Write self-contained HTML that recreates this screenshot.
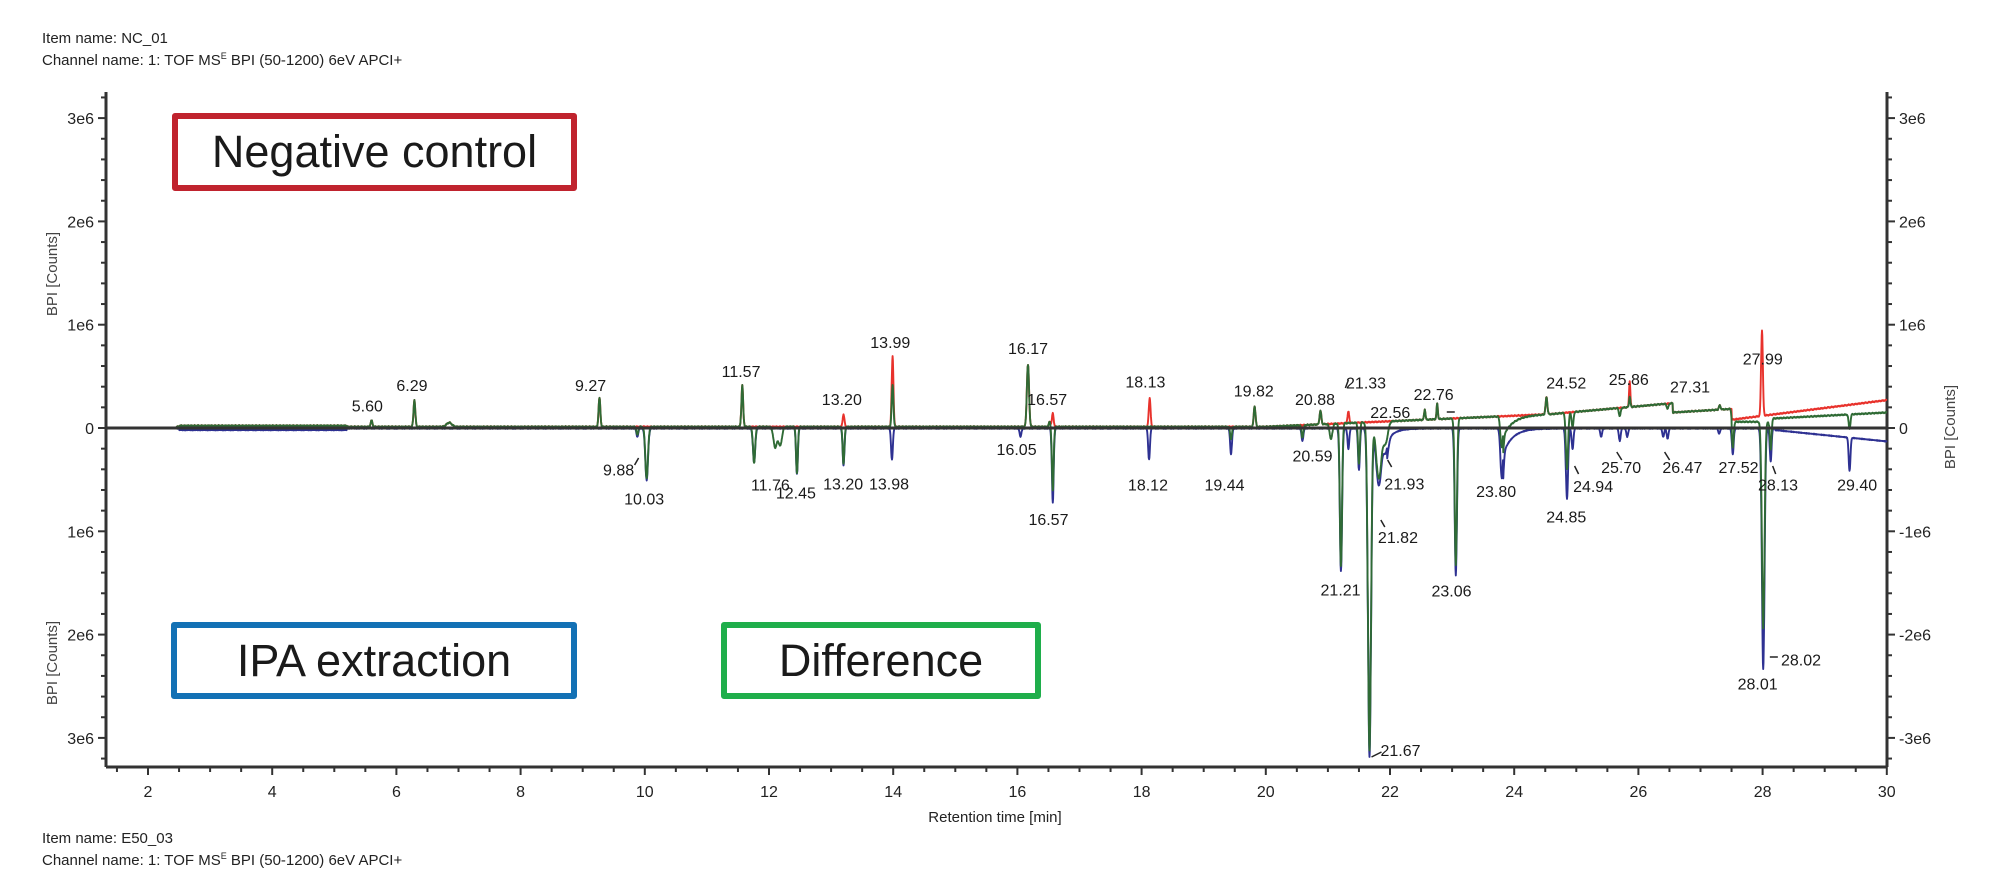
<!DOCTYPE html>
<html><head><meta charset="utf-8"><style>
html,body{margin:0;padding:0;background:#fff;}
body{width:2000px;height:893px;overflow:hidden;position:relative;font-family:"Liberation Sans",sans-serif;}
.hdr{position:absolute;left:42px;font-size:15px;color:#222;white-space:nowrap;}
.box{position:absolute;border:6px solid;border-radius:3px;box-sizing:border-box;display:flex;align-items:center;justify-content:center;font-size:45px;color:#1a1a1a;}
</style></head><body>
<div class="hdr" style="top:30px">Item name: NC_01</div>
<div class="hdr" style="top:51px">Channel name: 1: TOF MS<sup style="font-size:9px">E</sup> BPI (50-1200) 6eV APCI+</div>
<div class="hdr" style="top:830px">Item name: E50_03</div>
<div class="hdr" style="top:851px">Channel name: 1: TOF MS<sup style="font-size:9px">E</sup> BPI (50-1200) 6eV APCI+</div>
<svg id="s" width="2000" height="893" style="position:absolute;left:0;top:0" font-family="Liberation Sans, sans-serif"></svg>
<div class="box" style="left:172px;top:113px;width:405px;height:78px;border-color:#c0232e">Negative control</div>
<div class="box" style="left:171px;top:622px;width:406px;height:77px;border-color:#1371b5">IPA extraction</div>
<div class="box" style="left:721px;top:622px;width:320px;height:77px;border-color:#1fae4b">Difference</div>
<script>
var S=document.getElementById('s'),NS='http://www.w3.org/2000/svg';
function X(t){return 148+(t-2)*62.1;}
function Y(v){return 428-v*103.3;}
function el(n,a,txt){var e=document.createElementNS(NS,n);for(var k in a)e.setAttribute(k,a[k]);if(txt!=null)e.textContent=txt;S.appendChild(e);return e;}
var L=106,R=1887,T=92,B=767;
el('line',{x1:L,y1:T,x2:L,y2:B,stroke:'#333','stroke-width':3});
el('line',{x1:R,y1:T,x2:R,y2:B,stroke:'#333','stroke-width':3});
el('line',{x1:L,y1:B,x2:R,y2:B,stroke:'#333','stroke-width':3});
for(var t=1.5;t<=30.001;t+=0.5){var x=X(t),maj=Math.abs(t-Math.round(t/2)*2)<0.01;
 el('line',{x1:x,y1:B,x2:x,y2:B+(maj?8:5),stroke:'#333','stroke-width':2});
 if(maj)el('text',{x:x,y:B+30,'font-size':16,'text-anchor':'middle',fill:'#222'},String(Math.round(t)));}
el('text',{x:995,y:822,'font-size':15,'text-anchor':'middle',fill:'#222'},'Retention time [min]');
for(var i=-16;i<=16;i++){var v=i*0.2,y=Y(v);if(y<T||y>B)continue;var maj=i%5==0;
 el('line',{x1:L-(maj?8:5),y1:y,x2:L,y2:y,stroke:'#333','stroke-width':2});
 el('line',{x1:R,y1:y,x2:R+(maj?8:5),y2:y,stroke:'#333','stroke-width':2});
 if(maj){var n=i/5,lab=n==0?'0':Math.abs(n)+'e6';
  el('text',{x:L-12,y:y+6,'font-size':16,'text-anchor':'end',fill:'#222'},lab);
  el('text',{x:R+12,y:y+6,'font-size':16,fill:'#222'},n==0?'0':(n<0?'-':'')+Math.abs(n)+'e6');}}
el('text',{x:0,y:0,'font-size':15,'text-anchor':'middle',fill:'#444',transform:'translate(57,274) rotate(-90)'},'BPI [Counts]');
el('text',{x:0,y:0,'font-size':15,'text-anchor':'middle',fill:'#444',transform:'translate(57,663) rotate(-90)'},'BPI [Counts]');
el('text',{x:0,y:0,'font-size':15,'text-anchor':'middle',fill:'#444',transform:'translate(1955,427) rotate(-90)'},'BPI [Counts]');
function nz(t){return (Math.sin(t*1371.3)*0.5+Math.sin(t*523.7)*0.5)*0.006;}
function U(t){if(t<20)return 0.012+(t>2.5&&t<5.2?0.01:0);if(t<24.5)return 0.012+(t-20)/4.5*0.12;if(t<26.55)return 0.13+(t-24.5)/2.05*0.11;if(t<27.5)return 0.15+(t-26.55)/0.95*0.035;return null;}
function g(t,p){var s=0;for(var i=0;i<p.length;i++){var d=(t-p[i][0])/p[i][2];if(Math.abs(d)<6)s+=p[i][1]*Math.exp(-d*d);}return s;}
var posG=[[5.6,0.06,0.02],[6.29,0.26,0.02],[6.85,0.04,0.06],[9.27,0.28,0.02],[11.57,0.4,0.02],[13.99,0.4,0.02],[16.17,0.6,0.025],[19.82,0.2,0.02],[20.88,0.13,0.02],[22.56,0.1,0.015],[22.76,0.15,0.015],[24.52,0.17,0.02],[25.86,0.1,0.015],[27.31,0.04,0.02],[16.52,0.05,0.02]];
var posR=posG.concat([[13.20,0.12,0.02],[13.99,0.28,0.02],[16.57,0.13,0.02],[18.13,0.28,0.02],[21.33,0.11,0.02],[25.86,0.15,0.015],[27.99,0.83,0.02]]);
var negG=[[9.88,0.08,0.02],[10.03,0.5,0.03],[11.76,0.35,0.025],[12.1,0.2,0.04],[12.18,0.18,0.04],[12.45,0.45,0.02],[13.2,0.36,0.02],[16.57,0.62,0.02],[19.44,0.12,0.02],[20.59,0.12,0.02],[21.05,0.15,0.03],[21.21,1.38,0.025],[21.5,0.4,0.02],[21.67,3.18,0.035],[21.82,0.55,0.06],[21.93,0.2,0.05],[23.06,1.42,0.025],[23.8,0.3,0.03],[24.85,0.55,0.025],[24.94,0.15,0.02],[25.7,0.08,0.02],[26.47,0.05,0.02],[27.52,0.25,0.02],[28.01,2.0,0.03],[28.13,0.3,0.02],[29.4,0.14,0.02]];
var negB=[[9.88,0.08,0.02],[10.03,0.5,0.03],[11.76,0.33,0.025],[12.45,0.44,0.02],[13.2,0.36,0.02],[13.98,0.3,0.02],[16.05,0.08,0.02],[16.57,0.72,0.02],[18.12,0.3,0.02],[19.44,0.25,0.02],[20.59,0.12,0.02],[21.21,1.38,0.025],[21.33,0.2,0.02],[21.5,0.4,0.02],[21.67,3.18,0.035],[21.82,0.55,0.06],[21.93,0.22,0.05],[23.06,1.42,0.025],[23.8,0.48,0.03],[24.85,0.68,0.025],[24.94,0.2,0.02],[25.4,0.08,0.02],[25.7,0.12,0.02],[25.82,0.08,0.02],[26.47,0.1,0.02],[26.4,0.08,0.02],[27.3,0.05,0.02],[27.52,0.25,0.02],[28.01,2.33,0.03],[28.13,0.32,0.02],[29.4,0.32,0.02]];
function tail(t,t0,a,k){return t>t0?a*Math.exp(-(t-t0)/k):0;}
function path(f,c,w){var d='';for(var t=2.45;t<=30;t+=0.005){var v=f(t);d+=(d?'L':'M')+X(t).toFixed(1)+' '+Y(v).toFixed(1);}el('path',{d:d,fill:'none',stroke:c,'stroke-width':w,'stroke-linejoin':'round'});}
path(function(t){var u=U(t);if(u==null)u=0.08+(t-27.5)/2.5*0.19;return u+g(t,posR)+nz(t);},'#e8322c',1.9);
path(function(t){var b=t<28.2?-0.005:-0.02-(t-28.2)/1.8*0.11;if(t>2.5&&t<5.2)b=-0.02;return b-g(t,negB)-tail(t,23.82,0.25,0.15)-tail(t,21.95,0.12,0.12)+nz(t*1.3)*0.5;},'#2e3192',1.9);
path(function(t){var u=U(t);if(u==null){u=t<28.1?0.06:0.09+(t-28.1)/1.9*0.06;}return u+g(t,posG)-g(t,negG)-tail(t,23.82,0.2,0.15)+nz(t);},'#2f6b35',1.9);
el('line',{x1:L,y1:428,x2:R,y2:428,stroke:'#333','stroke-width':3});
var labs=[['5.60',288,318],['6.29',323,302],['9.27',463,302],['11.57',581,291],['13.20',660,313],['13.99',698,268],['16.17',806,273],['16.57',821,313],['18.13',898,299],['19.82',983,306],['20.88',1031,313],['21.33',1071,300],['22.56',1090,323],['22.76',1124,309],['24.52',1228,300],['25.86',1277,297],['27.31',1325,303],['27.99',1382,281],
['9.88',485,368],['10.03',505,391],['11.76',604,380],['12.45',624,386],['13.20',661,379],['13.98',697,379],['16.05',797,352],['16.57',822,407],['18.12',900,380],['19.44',960,380],['20.59',1029,357],['21.21',1051,462],['21.93',1101,379],['21.82',1096,421],['23.80',1173,385],['23.06',1138,463],['24.85',1228,405],['24.94',1249,381],['25.70',1271,366],['26.47',1319,366],['27.52',1363,366],['28.13',1394,380],['29.40',1456,380],['28.02',1412,517],['28.01',1378,536],['21.67',1098,588]];
labs.forEach(function(a){el('text',{x:a[1]*1.2755,y:a[2]*1.2755+6,'font-size':16,'text-anchor':'middle',fill:'#1a1a1a'},a[0]);});
[[X(9.9)-4,465,X(9.9),458],[X(21.33)-3,388,X(21.33),380],[X(22.56)+22,412,X(22.56)+30,412],[X(21.93)+2,460,X(21.93)+6,467],[X(21.82)+2,520,X(21.82)+6,527],[X(24.94)+2,466,X(24.94)+6,474],[X(25.7)-3,452,X(25.7)+2,460],[X(26.47)-3,452,X(26.47)+2,460],[X(28.13)+2,466,X(28.13)+5,474],[X(28.02)+6,657,X(28.02)+14,657],[X(21.67)+2,757,X(21.67)+12,752]].forEach(function(l){el('line',{x1:l[0],y1:l[1],x2:l[2],y2:l[3],stroke:'#222','stroke-width':1.5});});
</script>
</body></html>
